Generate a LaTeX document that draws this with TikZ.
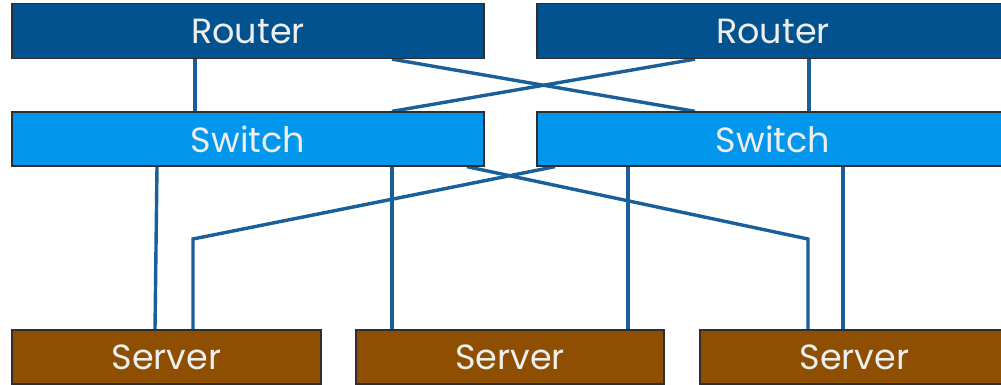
\documentclass[tikz,border=0pt]{standalone}
\usepackage{fontspec}
\setmainfont{Poppins}
\definecolor{routerc}{HTML}{02528F}
\definecolor{switchc}{HTML}{0297EC}
\definecolor{serverc}{HTML}{8E4F02}
\definecolor{linkc}{HTML}{1A5E9A}
\definecolor{edgec}{HTML}{2E2E2E}
\definecolor{txtc}{HTML}{EEEEEE}
\begin{document}
\begin{tikzpicture}[x=1pt,y=-1pt,
  box/.style={draw=edgec,line width=1.3pt,minimum height=55pt,inner sep=0pt,
    text=txtc,font=\fontsize{35}{35}\selectfont,anchor=center},
  routerbox/.style={box,fill=routerc,minimum width=472pt},
  switchbox/.style={box,fill=switchc,minimum width=472pt,minimum height=54pt},
  serverbox/.style={box,fill=serverc,minimum height=54pt},
  link/.style={draw=linkc,line width=3.4pt}]
\useasboundingbox (0,0) rectangle (1001,385);
\clip (0,0) rectangle (1001,385);
\fill[white] (0,0) rectangle (1001,385);
% node placement (drawn again on top of the links below)
\path node[routerbox] (r1) at (248,31) {Router}
      node[routerbox] (r2) at (773,31) {Router}
      node[switchbox] (s1) at (248,139) {Switch}
      node[switchbox] (s2) at (773,139) {Switch}
      node[serverbox,minimum width=309pt] (v1) at (166.5,357) {Server}
      node[serverbox,minimum width=308pt] (v2) at (510,357) {Server}
      node[serverbox,minimum width=309pt] (v3) at (854.5,357) {Server};
\coordinate (k1) at (808,239);
\coordinate (k2) at (193,239);
\path[link] (r1.south -| 195,0) -- (s1.north -| 195,0);
\path[link] (r1.south -| 392,0) -- (s2.north -| 695,0);
\path[link] (r2.south -| 695,0) -- (s1.north -| 392,0);
\path[link] (r2.south -| 809,0) -- (s2.north -| 809,0);
\path[link] (s1.south -| 157,0) -- (v1.north -| 155,0);
\path[link] (s1.south -| 392,0) -- (v2.north -| 392,0);
\path[link] (s1.south -| 467,0) -- (k1) -- (v3.north -| k1);
\path[link] (s2.south -| 555,0) -- (k2) -- (v1.north -| k2);
\path[link] (s2.south -| 628,0) -- (v2.north -| 628,0);
\path[link] (s2.south -| 843,0) -- (v3.north -| 843,0);
% boxes on top of the links
\node[routerbox] at (r1) {Router};
\node[routerbox] at (r2) {Router};
\node[switchbox] at (s1) {Switch};
\node[switchbox] at (s2) {Switch};
\node[serverbox,minimum width=309pt] at (v1) {Server};
\node[serverbox,minimum width=308pt] at (v2) {Server};
\node[serverbox,minimum width=309pt] at (v3) {Server};
\end{tikzpicture}
\end{document}
